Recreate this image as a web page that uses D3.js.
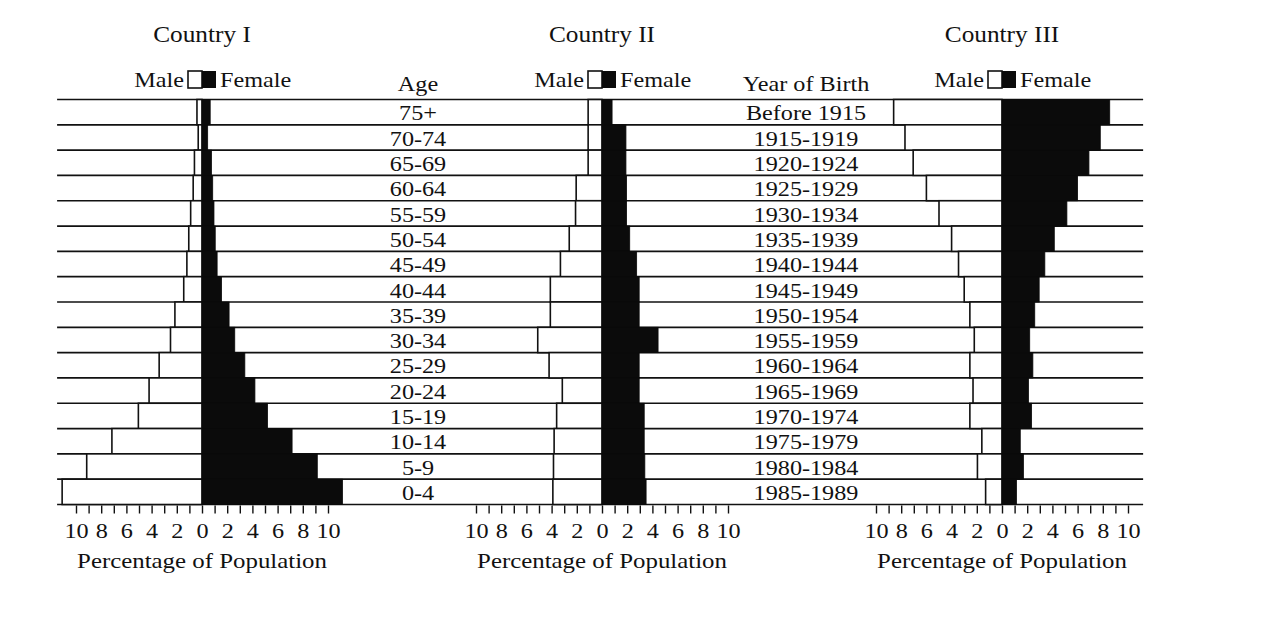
<!DOCTYPE html>
<html>
<head>
<meta charset="utf-8">
<script src="https://cdn.jsdelivr.net/npm/d3@7"></script>
<style>
body { margin: 0; background: #fff; }
text { font-family: "Liberation Serif", "Times New Roman", serif; fill: #111; }
</style>
</head>
<body>
<div id="chart"></div>
<script>

// rows, top to bottom
var ageGroups = ["75+","70-74","65-69","60-64","55-59","50-54","45-49","40-44",
	"35-39","30-34","25-29","20-24","15-19","10-14","5-9","0-4"];
var birthYears = ["Before 1915","1915-1919","1920-1924","1925-1929","1930-1934","1935-1939",
	"1940-1944","1945-1949","1950-1954","1955-1959","1960-1964","1965-1969",
	"1970-1974","1975-1979","1980-1984","1985-1989"];

// percentage of population
var maleI   = [0.4, 0.3, 0.6, 0.7, 0.9, 1.05, 1.2, 1.45, 2.15, 2.5, 3.4, 4.2, 5.05, 7.15, 9.15, 11.1];
var femaleI = [0.65, 0.45, 0.75, 0.85, 0.95, 1.05, 1.2, 1.55, 2.15, 2.6, 3.4, 4.2, 5.2, 7.15, 9.15, 11.15];
var maleII   = [1.1, 1.1, 1.1, 2.05, 2.1, 2.6, 3.3, 4.1, 4.1, 5.1, 4.2, 3.15, 3.6, 3.8, 3.85, 3.9];
var femaleII = [0.8, 1.9, 1.9, 1.95, 1.95, 2.2, 2.75, 2.95, 2.95, 4.45, 2.95, 2.95, 3.35, 3.35, 3.4, 3.5];
var maleIII   = [8.6, 7.7, 7.05, 6.0, 5.0, 4.0, 3.45, 3.0, 2.55, 2.2, 2.55, 2.3, 2.55, 1.6, 1.95, 1.3];
var femaleIII = [8.55, 7.8, 6.9, 6.0, 5.15, 4.15, 3.4, 2.95, 2.6, 2.2, 2.45, 2.1, 2.35, 1.45, 1.7, 1.15];

var countries = ["Country I", "Country II", "Country III"];
var tickMarks = [-10,-9,-8,-7,-6,-5,-4,-3,-2,-1,0,1,2,3,4,5,6,7,8,9,10];
var tickLabels = [-10,-8,-6,-4,-2,0,2,4,6,8,10];

var width = 1261, height = 630;
var rowTop = 99.5, rowBottom = 504.5;
var zeros = [202, 602, 1002];
var half = 126;          // px for 10%
var sx = 1.1;            // text is a bit wide in the scan
var ink = "#111";

var svg = d3.select("#chart").append("svg")
	.attr("width", width)
	.attr("height", height)
	.style("display", "block");

var y = d3.scaleBand()
	.domain(d3.range(ageGroups.length))
	.range([rowTop, rowBottom]);

var xs = zeros.map(function(z) {
	return d3.scaleLinear().domain([-10, 10]).range([z - half, z + half]);
});

function label(x, yy, str, size, anchor, stretch) {
	return svg.append("text")
		.attr("transform", "translate(" + x + "," + yy + ") scale(" + (stretch || sx) + ",1)")
		.attr("text-anchor", anchor || "middle")
		.style("font-size", size + "px")
		.text(str);
}

// row lines run right across all three pyramids
var bounds = d3.range(ageGroups.length).map(function(i) { return y(i); }).concat([rowBottom]);
svg.append("g").selectAll("line")
	.data(bounds)
	.enter().append("line")
	.attr("x1", xs[0](-11.5))
	.attr("x2", xs[2](11.2))
	.attr("y1", function(d) { return d; })
	.attr("y2", function(d) { return d; })
	.style("stroke", ink)
	.style("stroke-width", 1.7);

var panels = [
	{male: maleI, female: femaleI},
	{male: maleII, female: femaleII},
	{male: maleIII, female: femaleIII}
];

panels.forEach(function(p, k) {
	var x = xs[k];
	var g = svg.append("g");

	g.selectAll(".male")
		.data(p.male)
		.enter().append("rect")
		.attr("class", "male")
		.attr("x", function(d) { return x(-d); })
		.attr("y", function(d, i) { return y(i); })
		.attr("width", function(d) { return x(0) - x(-d); })
		.attr("height", y.bandwidth())
		.style("fill", "#fff")
		.style("stroke", ink)
		.style("stroke-width", 1.6);

	g.selectAll(".female")
		.data(p.female)
		.enter().append("rect")
		.attr("class", "female")
		.attr("x", x(0))
		.attr("y", function(d, i) { return y(i); })
		.attr("width", function(d) { return x(d) - x(0); })
		.attr("height", y.bandwidth())
		.style("fill", "#0b0b0b")
		.style("stroke", "#0b0b0b")
		.style("stroke-width", 0.8);

	var axis = d3.axisBottom(x)
		.tickValues(tickMarks)
		.tickSize(8)
		.tickFormat(function(d) { return tickLabels.indexOf(d) >= 0 ? Math.abs(d) : ""; });

	var ag = svg.append("g")
		.attr("transform", "translate(0," + (rowBottom + 1) + ")")
		.call(axis);
	ag.select(".domain").remove();
	ag.selectAll(".tick line").style("stroke", ink).style("stroke-width", 1.4);
	ag.selectAll(".tick text")
		.attr("y", 33)
		.attr("dy", 0)
		.attr("transform", "scale(" + sx + ",1)")
		.style("font-family", "'Liberation Serif', serif")
		.style("font-size", "22px")
		.style("fill", ink);

	// titles, legend and axis title
	label(x(0), 42, countries[k], 23);
	label(x(0), 568, "Percentage of Population", 22, "middle", 1.13);

	svg.append("rect")
		.attr("x", x(0) - 14).attr("y", 71)
		.attr("width", 14).attr("height", 17)
		.style("fill", "#fff").style("stroke", ink).style("stroke-width", 1.6);
	svg.append("rect")
		.attr("x", x(0)).attr("y", 71)
		.attr("width", 14).attr("height", 17)
		.style("fill", "#0b0b0b");
	label(x(0) - 18, 87, "Male", 22, "end");
	label(x(0) + 18, 87, "Female", 22, "start");
});

// label columns
label(418, 91, "Age", 22);
label(806, 91, "Year of Birth", 22);

svg.append("g").selectAll("text")
	.data(ageGroups)
	.enter().append("text")
	.attr("transform", function(d, i) {
		return "translate(418," + (y(i) + y.bandwidth() - 4.5) + ") scale(" + sx + ",1)"; })
	.attr("text-anchor", "middle")
	.style("font-size", "22px")
	.text(function(d) { return d; });

svg.append("g").selectAll("text")
	.data(birthYears)
	.enter().append("text")
	.attr("transform", function(d, i) {
		return "translate(806," + (y(i) + y.bandwidth() - 4.5) + ") scale(" + sx + ",1)"; })
	.attr("text-anchor", "middle")
	.style("font-size", "22px")
	.text(function(d) { return d; });

</script>
</body>
</html>
